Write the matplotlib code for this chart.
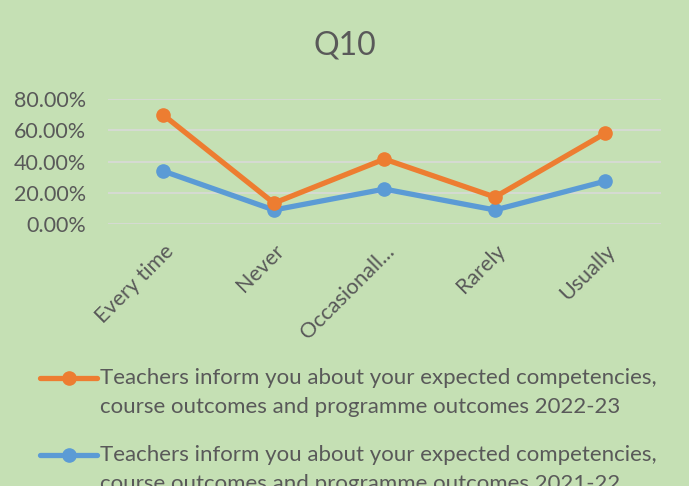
import matplotlib.pyplot as plt
from matplotlib.lines import Line2D
from matplotlib.ticker import FuncFormatter

categories = ["Every time", "Never", "Occasionall...", "Rarely", "Usually"]
s2023 = [0.698, 0.134, 0.416, 0.173, 0.582]
s2022 = [0.339, 0.090, 0.224, 0.090, 0.275]
lab2023 = ["Teachers inform you about your expected competencies,",
           "course outcomes and programme outcomes 2022-23"]
lab2022 = ["Teachers inform you about your expected competencies,",
           "course outcomes and programme outcomes 2021-22"]

bg = "#C5E0B4"
txt = "#595959"
orange = "#ED7D31"
blue = "#5B9BD5"
plt.rcParams['font.family'] = ['Lato', 'DejaVu Sans']

fig = plt.figure(figsize=(6.89, 4.86), dpi=100, facecolor=bg)
ax = fig.add_axes([0.157, 0.539, 0.802, 0.257], facecolor=bg)

x = range(len(categories))
ax.plot(x, s2023, color=orange, lw=3.8, marker="o", ms=9.5,
        solid_capstyle="round", zorder=3)
ax.plot(x, s2022, color=blue, lw=3.8, marker="o", ms=9.5,
        solid_capstyle="round", zorder=2)

ax.set_xlim(-0.5, len(categories) - 0.5)
ax.set_ylim(0, 0.8)
ax.set_yticks([0, 0.2, 0.4, 0.6, 0.8])
ax.yaxis.set_major_formatter(FuncFormatter(lambda v, p: f"{v*100:.2f}%"))
ax.grid(axis="y", color="#D9D9D9", lw=1.2)
ax.set_axisbelow(True)
for s in ax.spines.values():
    s.set_visible(False)
ax.tick_params(length=0, labelsize=15.5, colors=txt)
ax.tick_params(axis="y", pad=16)
ax.set_xticks(list(x))
ax.set_xticklabels(categories, rotation=45, ha="right", va="top",
                   rotation_mode="anchor")
ax.tick_params(axis="x", pad=12)

fig.text(0.5, 0.907, "Q10", ha="center", va="center", fontsize=23, color=txt)

# legend, drawn by hand so the handle sits on the first text line
entries = [(orange, lab2023, 378), (blue, lab2022, 455)]
W, H = 689.0, 486.0
for col, lines, ypx in entries:
    yf = 1 - ypx / H
    fig.add_artist(Line2D([40 / W, 97 / W], [yf, yf], color=col, lw=3.8,
                          solid_capstyle="round", transform=fig.transFigure))
    fig.add_artist(Line2D([68.5 / W], [yf], color=col, marker="o", ms=9.5,
                          transform=fig.transFigure))
    for i, ln in enumerate(lines):
        fig.text(100 / W, 1 - (ypx + 29 * i) / H, ln, ha="left", va="center",
                 fontsize=16, color=txt)

fig.savefig("out.png", dpi=100, facecolor=bg)
